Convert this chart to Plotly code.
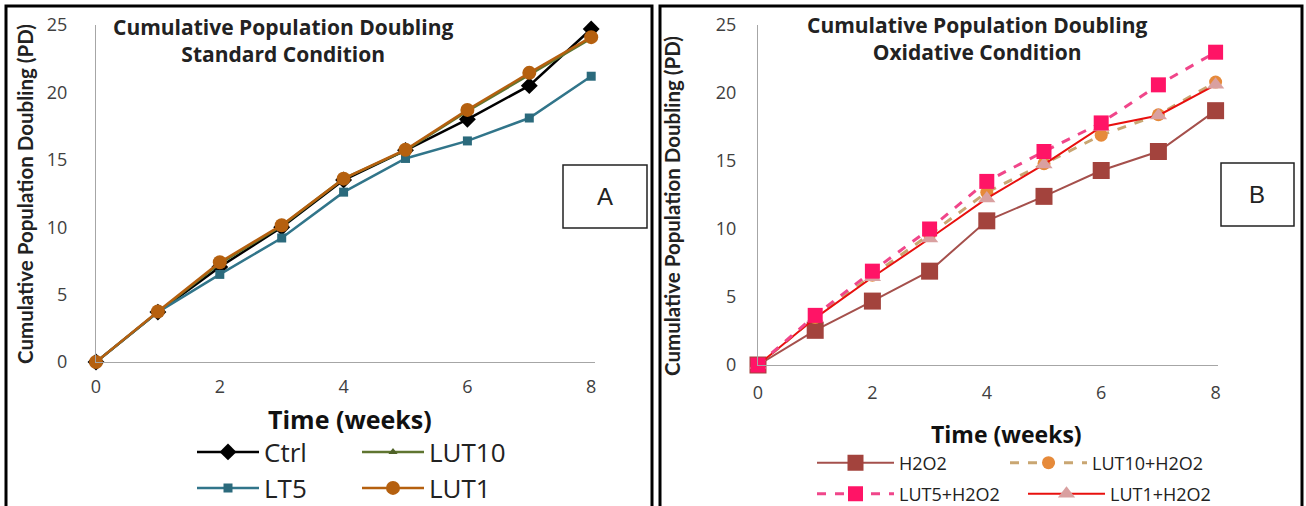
import plotly.graph_objects as go

W, H = 1306, 506

weeks = [0, 1, 2, 3, 4, 5, 6, 7, 8]

# Panel A: standard condition
ctrl = [0, 3.7, 7.05, 10.0, 13.5, 15.7, 18.0, 20.5, 24.7]
lut10 = [0, 3.7, 7.3, 10.1, 13.6, 15.7, 18.6, 21.3, 24.0]
lt5 = [0, 3.7, 6.5, 9.2, 12.6, 15.1, 16.4, 18.1, 21.2]
lut1 = [0, 3.75, 7.4, 10.15, 13.6, 15.75, 18.7, 21.45, 24.1]

# Panel B: oxidative condition
h2o2 = [0, 2.55, 4.7, 6.9, 10.6, 12.4, 14.3, 15.7, 18.7]
lut10_h2o2 = [0, 3.5, 6.6, 9.6, 12.7, 14.8, 16.9, 18.4, 20.8]
lut5_h2o2 = [0, 3.65, 6.9, 10.0, 13.5, 15.7, 17.8, 20.6, 23.0]
lut1_h2o2 = [0, 3.45, 6.45, 9.3, 12.25, 14.75, 17.5, 18.35, 20.6]

y_ticks = [0, 5, 10, 15, 20, 25]
x_ticks = [0, 2, 4, 6, 8]


def px(x):
    return x / W


def py(y):
    return (H - y) / H


fig = go.Figure()

# ---- Panel A traces
fig.add_trace(go.Scatter(x=weeks, y=ctrl, name="Ctrl", mode="lines+markers",
                         line=dict(color="#000000", width=2.5),
                         marker=dict(symbol="diamond", size=13, color="#000000"),
                         xaxis="x", yaxis="y", legend="legend", legendwidth=88,
                         cliponaxis=False))
fig.add_trace(go.Scatter(x=weeks, y=lut10, name="LUT10", mode="lines+markers",
                         line=dict(color="#5f7530", width=2.5),
                         marker=dict(symbol="triangle-up", size=8, color="#4f6228"),
                         xaxis="x", yaxis="y", legend="legend", cliponaxis=False))
fig.add_trace(go.Scatter(x=weeks, y=lt5, name="LT5", mode="lines+markers",
                         line=dict(color="#31758a", width=2.5),
                         marker=dict(symbol="square", size=9, color="#2b6a7c"),
                         xaxis="x", yaxis="y", legend="legend3", legendwidth=88,
                         cliponaxis=False))
fig.add_trace(go.Scatter(x=weeks, y=lut1, name="LUT1", mode="lines+markers",
                         line=dict(color="#b5600f", width=2.5),
                         marker=dict(symbol="circle", size=14, color="#b5600f"),
                         xaxis="x", yaxis="y", legend="legend3", cliponaxis=False))

# ---- Panel B traces
fig.add_trace(go.Scatter(x=weeks, y=h2o2, name="H2O2", mode="lines+markers",
                         line=dict(color="#a5504c", width=2),
                         marker=dict(symbol="square", size=17, color="#a3433d"),
                         xaxis="x2", yaxis="y2", legend="legend2", legendrank=1,
                         legendwidth=101, cliponaxis=False))
fig.add_trace(go.Scatter(x=weeks, y=lut10_h2o2, name="LUT10+H2O2", mode="lines+markers",
                         line=dict(color="#c9a672", width=3, dash="dash"),
                         marker=dict(symbol="circle", size=13, color="#e68a3a"),
                         xaxis="x2", yaxis="y2", legend="legend2", legendrank=2,
                         cliponaxis=False))
fig.add_trace(go.Scatter(x=weeks, y=lut1_h2o2, name="LUT1+H2O2", mode="lines+markers",
                         line=dict(color="#e8100e", width=2),
                         marker=dict(symbol="triangle-up", size=15, color="#d9a0a0"),
                         xaxis="x2", yaxis="y2", legend="legend4", legendrank=4,
                         cliponaxis=False))
fig.add_trace(go.Scatter(x=weeks, y=lut5_h2o2, name="LUT5+H2O2", mode="lines+markers",
                         line=dict(color="#f0468a", width=3, dash="dash"),
                         marker=dict(symbol="square", size=15, color="#ff1466"),
                         xaxis="x2", yaxis="y2", legend="legend4", legendrank=3,
                         legendwidth=119, cliponaxis=False))

tick_font = dict(family="Open Sans", size=18, color="#404040")
axis_common = dict(showgrid=False, zeroline=False, showline=True, linecolor="#a6a6a6",
                   linewidth=1, ticks="", tickfont=tick_font)

leg_a = dict(orientation="h", xanchor="left", yanchor="middle",
             entrywidthmode="pixels", itemwidth=62,
             font=dict(family="Open Sans", size=26, color="#222222"),
             bgcolor="rgba(0,0,0,0)", borderwidth=0)
leg_b = dict(orientation="h", xanchor="left", yanchor="middle",
             entrywidthmode="pixels", itemwidth=77,
             font=dict(family="Open Sans", size=18, color="#222222"),
             bgcolor="rgba(0,0,0,0)", borderwidth=0)

fig.update_layout(
    width=W, height=H,
    margin=dict(l=0, r=0, t=0, b=0, autoexpand=False),
    paper_bgcolor="white", plot_bgcolor="white",
    xaxis=dict(domain=[px(96), px(96 + 61.9 * 8.06)], range=[0, 8.06],
               tickvals=x_ticks, ticklabelstandoff=8, anchor="y", **axis_common),
    yaxis=dict(domain=[py(362), py(25)], range=[0, 25], tickvals=y_ticks,
               ticklabelstandoff=24, anchor="x", **axis_common),
    xaxis2=dict(domain=[px(758), px(758 + 57.2 * 8.05)], range=[0, 8.05],
                tickvals=x_ticks, ticklabelstandoff=11, anchor="y2", **axis_common),
    yaxis2=dict(domain=[py(365), py(25)], range=[0, 25], tickvals=y_ticks,
                ticklabelstandoff=17, anchor="x2", **axis_common),
    legend=dict(leg_a, x=px(192), y=py(452)),
    legend3=dict(leg_a, x=px(192), y=py(488)),
    legend2=dict(leg_b, x=px(812), y=py(463)),
    legend4=dict(leg_b, x=px(812), y=py(494)),
    showlegend=True,
)

# Panel frames
shapes = [
    dict(type="rect", xref="paper", yref="paper", x0=px(6), x1=px(652), y0=py(512), y1=py(6),
         line=dict(color="black", width=3)),
    dict(type="rect", xref="paper", yref="paper", x0=px(660), x1=px(1302), y0=py(512), y1=py(6),
         line=dict(color="black", width=3)),
    dict(type="rect", xref="paper", yref="paper", x0=px(563), x1=px(647), y0=py(228), y1=py(165),
         line=dict(color="#222222", width=1.5)),
    dict(type="rect", xref="paper", yref="paper", x0=px(1221), x1=px(1294), y0=py(226), y1=py(163),
         line=dict(color="#222222", width=1.5)),
]
fig.update_layout(shapes=shapes)

title_font = dict(family="Open Sans", size=21, color="#222222")
annotations = [
    dict(text="<b>Cumulative Population Doubling<br>Standard Condition</b>",
         x=px(283), y=py(41), font=title_font),
    dict(text="<b>Cumulative Population Doubling<br>Oxidative Condition</b>",
         x=px(977), y=py(38), font=title_font),
    dict(text="<b>Cumulative Population Doubling (PD)</b>", x=px(25), y=py(194), textangle=-90,
         font=dict(family="Lato", size=20.5, color="#222222")),
    dict(text="<b>Cumulative Population Doubling (PD)</b>", x=px(672), y=py(206), textangle=-90,
         font=dict(family="Lato", size=20.5, color="#222222")),
    dict(text="<b>Time (weeks)</b>", x=px(350), y=py(419),
         font=dict(family="Open Sans", size=25, color="#111111")),
    dict(text="<b>Time (weeks)</b>", x=px(1006), y=py(434),
         font=dict(family="Open Sans", size=23, color="#111111")),
    dict(text="A", x=px(605), y=py(196),
         font=dict(family="Liberation Sans", size=24, color="#222222")),
    dict(text="B", x=px(1257), y=py(194),
         font=dict(family="Liberation Sans", size=24, color="#222222")),
]
for a in annotations:
    a.update(xref="paper", yref="paper", showarrow=False, xanchor="center", yanchor="middle")
fig.update_layout(annotations=annotations)

fig.write_html("out.html", config={"displayModeBar": False},
               post_script="document.body.style.margin='0';")
